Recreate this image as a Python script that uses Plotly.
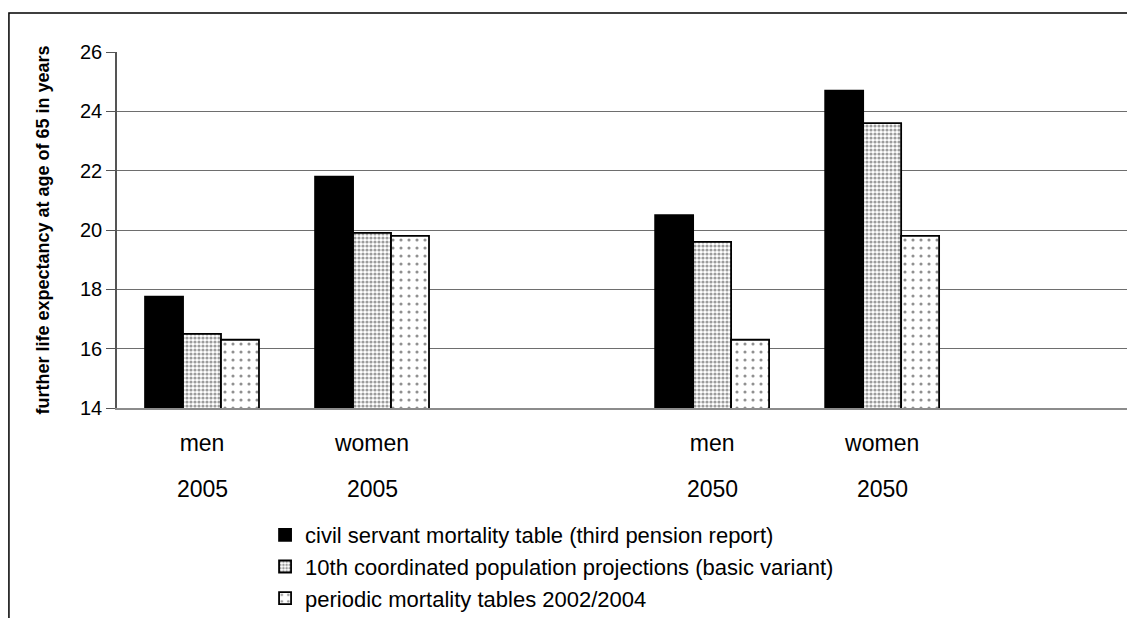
import plotly.graph_objects as go

# Category slots: two empty slots keep the 2005 and 2050 groups apart
sex_labels = ["men", "women", "", "men", "women", ""]
year_labels = ["2005", "2005", "", "2050", "2050", ""]
slots = ["m2005", "w2005", "gap1", "m2050", "w2050", "gap2"]

series_names = [
    "civil servant mortality table (third pension report)",
    "10th coordinated population projections (basic variant)",
    "periodic mortality tables 2002/2004",
]
civil_servant = [17.75, 21.8, None, 20.5, 24.7, None]
population_proj = [16.5, 19.9, None, 19.6, 23.6, None]
periodic_tables = [16.3, 19.8, None, 16.3, 19.8, None]

y_ticks = [14, 16, 18, 20, 22, 24, 26]

FONT = "Liberation Sans, Arial, sans-serif"

styles = [
    dict(color="black", pattern=dict(shape="")),
    dict(color="white", pattern=dict(shape=".", fgcolor="#3a3a3a", bgcolor="white",
                                     size=4, solidity=0.5, fillmode="overlay")),
    dict(color="white", pattern=dict(shape=".", fgcolor="#222222", bgcolor="white",
                                     size=8, solidity=0.12, fillmode="overlay")),
]

fig = go.Figure()
for i, (name, vals) in enumerate(zip(series_names, [civil_servant, population_proj, periodic_tables])):
    st = styles[i]
    fig.add_trace(go.Bar(
        x=slots, y=vals, name=name, legendgroup=f"g{i}",
        marker=dict(color=st["color"], pattern=st["pattern"],
                    line=dict(color="black", width=1.8)),
    ))

# Year row under the sex labels
for s, yr in zip(slots, year_labels):
    if yr:
        fig.add_annotation(x=s, y=-0.2275, xref="x", yref="paper", text=yr,
                           showarrow=False, yanchor="middle",
                           font=dict(family=FONT, size=23, color="black"))

# Outer frame around the chart
fig.add_shape(type="rect", xref="paper", yref="paper",
              x0=-0.107, x1=1.05, y0=-0.7, y1=1.1096,
              line=dict(color="black", width=1.5), fillcolor="rgba(0,0,0,0)",
              layer="below")

fig.update_layout(
    width=1127, height=618,
    margin=dict(l=117, r=0, t=52, b=210, autoexpand=False),
    paper_bgcolor="white", plot_bgcolor="white",
    barmode="group", bargap=0.33, bargroupgap=0,
    font=dict(family=FONT, size=16, color="black"),
    showlegend=True,
    legend=dict(x=0.1466, xanchor="left", y=-0.298, yanchor="top",
                font=dict(family=FONT, size=22, color="black"),
                tracegroupgap=0, bgcolor="rgba(0,0,0,0)"),
    xaxis=dict(type="category", categoryorder="array", categoryarray=slots,
               tickmode="array", tickvals=slots, ticktext=sex_labels,
               range=[-0.5, 5.44], showgrid=False, ticks="",
               showline=True, linecolor="#8c8c8c", linewidth=2,
               ticklabelstandoff=13, automargin=False,
               tickfont=dict(family=FONT, size=23, color="black")),
    yaxis=dict(range=[14, 26], tickvals=y_ticks, showgrid=True,
               gridcolor="#6e6e6e", gridwidth=1.2, zeroline=False,
               showline=True, linecolor="#555555", linewidth=1.5,
               ticks="outside", ticklen=9, tickcolor="#555555", tickwidth=1.2,
               automargin=False,
               tickfont=dict(family=FONT, size=20, color="black"),
               title=dict(text="<b>further life expectancy at age of 65 in years</b>",
                          font=dict(family=FONT, size=18, color="black"),
                          standoff=26)),
)

fig.write_html("out.html")
